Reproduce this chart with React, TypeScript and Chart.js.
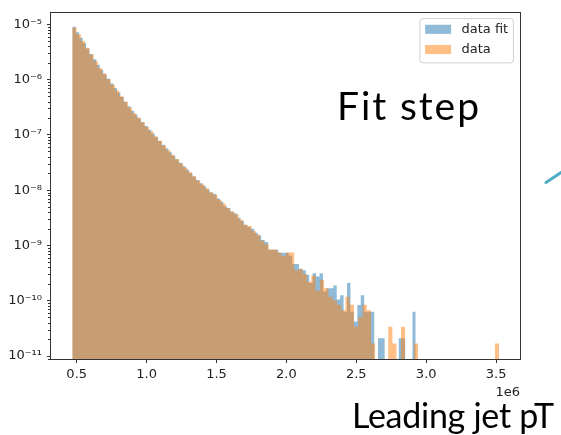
import React, { useEffect, useRef } from 'react';
import { Chart, registerables } from 'chart.js';

Chart.register(...registerables);

// ---- data ----
const binStart = 468500; // left edge of the first bin (both histograms)
const dataBinWidth = 30530; // "data" histogram bin width
const dataFitBinWidth = 24565; // "data fit" histogram bin width

// density values per bin (100 bins each)
const dataDensity = [
  8.71e-6, 6.59e-6, 4.98e-6, 3.76e-6, 2.84e-6, 2.15e-6, 1.62e-6, 1.28e-6, 1.01e-6, 8.02e-7,
  6.32e-7, 5.0e-7, 3.95e-7, 3.13e-7, 2.49e-7, 2.06e-7, 1.69e-7, 1.39e-7, 1.15e-7, 9.46e-8,
  7.78e-8, 6.41e-8, 5.28e-8, 4.36e-8, 3.63e-8, 3.04e-8, 2.54e-8, 2.13e-8, 1.78e-8, 1.49e-8,
  1.26e-8, 1.08e-8, 9.2e-9, 8.13e-9, 6.71e-9, 5.69e-9, 4.68e-9, 4.07e-9, 3.63e-9, 2.92e-9,
  2.4e-9, 2.24e-9, 1.82e-9, 1.58e-9, 1.22e-9, 1.05e-9, 8.45e-10, 8.45e-10, 7.44e-10, 6.42e-10,
  7.44e-10, 7.44e-10, 3.55e-10, 3.72e-10, 3.04e-10, 2.2e-10, 2.87e-10, 1.52e-10, 2.37e-10, 1.69e-10,
  1.18e-10, 1.01e-10, 8.45e-11, 6.76e-11, 1.18e-10, 8.45e-11, 3.38e-11, 5.07e-11, 8.45e-11, 6.76e-11,
  1.69e-11, 0, 0, 0, 3.38e-11, 1.69e-11, 0, 3.38e-11, 0, 0,
  1.69e-11, 0, 0, 0, 0, 0, 0, 0, 0, 0,
  0, 0, 0, 0, 0, 0, 0, 0, 0, 1.69e-11,
];

const dataFitDensity = [
  8.97e-6, 7.16e-6, 5.71e-6, 4.56e-6, 3.64e-6, 2.9e-6, 2.32e-6, 1.85e-6, 1.5e-6, 1.24e-6,
  1.03e-6, 8.49e-7, 7.03e-7, 5.82e-7, 4.81e-7, 3.98e-7, 3.3e-7, 2.73e-7, 2.32e-7, 1.98e-7,
  1.69e-7, 1.45e-7, 1.24e-7, 1.06e-7, 9.08e-8, 7.76e-8, 6.64e-8, 5.69e-8, 4.86e-8, 4.17e-8,
  3.61e-8, 3.13e-8, 2.71e-8, 2.34e-8, 2.03e-8, 1.76e-8, 1.52e-8, 1.33e-8, 1.17e-8, 1.03e-8,
  9.08e-9, 8.51e-9, 7.05e-9, 6.19e-9, 5.13e-9, 4.73e-9, 4.13e-9, 3.8e-9, 3.16e-9, 2.77e-9,
  2.34e-9, 2.15e-9, 2.0e-9, 1.69e-9, 1.51e-9, 1.26e-9, 1.15e-9, 8.4e-10, 8.4e-10, 8.4e-10,
  7.35e-10, 7.35e-10, 7.35e-10, 6.51e-10, 4.62e-10, 4.62e-10, 3.78e-10, 3.57e-10, 2.94e-10, 2.1e-10,
  3.15e-10, 2.73e-10, 3.15e-10, 1.47e-10, 1.68e-10, 1.68e-10, 1.89e-10, 1.05e-10, 1.26e-10, 6.3e-11,
  2.1e-10, 6.3e-11, 4.2e-11, 8.4e-11, 1.26e-10, 6.3e-11, 6.3e-11, 6.3e-11, 0, 2.1e-11,
  2.1e-11, 0, 0, 0, 0, 2.1e-11, 2.1e-11, 0, 0, 6.3e-11,
];

const legendLabels = ['data fit', 'data'];
const xTickValues = [500000, 1000000, 1500000, 2000000, 2500000, 3000000, 3500000];
const xTickLabels = ['0.5', '1.0', '1.5', '2.0', '2.5', '3.0', '3.5'];
const xOffsetLabel = '1e6';
const yTickValues = [1e-11, 1e-10, 1e-9, 1e-8, 1e-7, 1e-6, 1e-5];
const yTickLabels = ['10⁻¹¹', '10⁻¹⁰', '10⁻⁹', '10⁻⁸', '10⁻⁷', '10⁻⁶', '10⁻⁵'];
const yMinorMultipliers = [2, 3, 4, 5, 6, 7, 8, 9];
const slideTitle = 'Fit step';
const slideCaption = 'Leading jet pT';

const X_MIN = 316200;
const X_MAX = 3671000;
const Y_MIN = 8.84e-12;
const Y_MAX = 1.61e-5;

const FONT = "'DejaVu Sans', sans-serif";
const TEXT = '#222';
const SPINE = '#333';

function histogramOutline(values: number[], width: number) {
  const pts: { x: number; y: number | null }[] = [];
  values.forEach((v, i) => {
    const left = binStart + width * i;
    const y = v > 0 ? v : null;
    pts.push({ x: left, y }, { x: left + width, y });
  });
  return pts;
}

const framePlugin = {
  id: 'mplFrame',
  afterDatasetsDraw(chart: any) {
    const { ctx, chartArea } = chart;
    const l = Math.round(chartArea.left) - 0.5;
    const t = Math.round(chartArea.top) - 0.5;
    const r = Math.round(chartArea.right) + 0.5;
    const b = Math.round(chartArea.bottom) + 0.5;
    ctx.save();
    ctx.strokeStyle = SPINE;
    ctx.lineWidth = 1;
    ctx.strokeRect(l, t, r - l, b - t);
    // minor log ticks on the y axis
    const ys = chart.scales.y;
    const e0 = Math.floor(Math.log10(ys.min));
    const e1 = Math.ceil(Math.log10(ys.max));
    ctx.beginPath();
    for (let e = e0; e <= e1; e++) {
      for (const m of yMinorMultipliers) {
        const v = m * Math.pow(10, e);
        if (v < ys.min || v > ys.max) continue;
        const py = Math.round(ys.getPixelForValue(v)) + 0.5;
        ctx.moveTo(l - 2.5, py);
        ctx.lineTo(l, py);
      }
    }
    ctx.stroke();
    ctx.restore();
  },
};

const legendPlugin = {
  id: 'mplLegend',
  afterDraw(chart: any) {
    const { ctx, chartArea } = chart;
    const fs = 13;
    const pad = 0.4 * fs;
    const handleW = 2 * fs;
    const handleH = 0.7 * fs;
    const gap = 0.8 * fs;
    const rowPitch = 20.2;
    const items = chart.data.datasets.map((ds: any) => ({ label: ds.label, color: ds.backgroundColor }));
    ctx.save();
    ctx.font = `${fs}px ${FONT}`;
    const textW = Math.max(...items.map((it: any) => ctx.measureText(it.label).width));
    const w = pad * 2 + handleW + gap + textW;
    const h = 44.3;
    const left = chartArea.right - 6.6 - w;
    const top = chartArea.top + 5.8;
    ctx.beginPath();
    ctx.roundRect(left, top, w, h, 3);
    ctx.fillStyle = 'rgba(255,255,255,0.8)';
    ctx.fill();
    ctx.strokeStyle = '#d0d0d0';
    ctx.lineWidth = 1;
    ctx.stroke();
    items.forEach((it: any, i: number) => {
      const cy = top + 10.7 + i * rowPitch;
      ctx.fillStyle = it.color;
      ctx.fillRect(left + pad, cy - handleH / 2, handleW, handleH);
      ctx.fillStyle = TEXT;
      ctx.textBaseline = 'middle';
      ctx.textAlign = 'left';
      ctx.fillText(it.label, left + pad + handleW + gap, cy + 0.5);
    });
    ctx.restore();
  },
};

export default function App() {
  const canvasRef = useRef<HTMLCanvasElement | null>(null);

  useEffect(() => {
    document.body.style.margin = '0';
    const canvas = canvasRef.current;
    if (!canvas) return;
    Chart.defaults.font.family = FONT;
    const tickFont = { family: FONT, size: 13 };
    const chart = new Chart(canvas, {
      type: 'line',
      data: {
        datasets: [
          {
            label: legendLabels[0],
            data: histogramOutline(dataFitDensity, dataFitBinWidth),
            backgroundColor: 'rgba(31,119,180,0.5)',
            borderWidth: 0,
            pointRadius: 0,
            fill: 'start',
            spanGaps: false,
            tension: 0,
            order: 1,
          },
          {
            label: legendLabels[1],
            data: histogramOutline(dataDensity, dataBinWidth),
            backgroundColor: 'rgba(255,127,14,0.5)',
            borderWidth: 0,
            pointRadius: 0,
            fill: 'start',
            spanGaps: false,
            tension: 0,
            order: 0,
          },
        ],
      } as any,
      options: {
        responsive: false,
        animation: false,
        events: [],
        layout: { padding: { left: 0, top: 10, right: 41, bottom: 34.5 } },
        plugins: { legend: { display: false }, tooltip: { enabled: false } },
        scales: {
          x: {
            type: 'linear',
            position: 'bottom',
            min: X_MIN,
            max: X_MAX,
            afterBuildTicks: (s: any) => {
              s.ticks = xTickValues.map((v) => ({ value: v }));
            },
            afterFit: (s: any) => {
              s.height = 41.5;
            },
            ticks: {
              callback: (_v: any, i: number) => xTickLabels[i],
              color: TEXT,
              font: tickFont,
              padding: 4,
              autoSkip: false,
              maxRotation: 0,
            },
            grid: { display: true, drawOnChartArea: false, drawTicks: true, tickLength: 4, color: SPINE, lineWidth: 1 },
            border: { display: false },
            title: { display: true, text: xOffsetLabel, align: 'end', color: TEXT, font: tickFont, padding: 0 },
          },
          y: {
            type: 'logarithmic',
            position: 'left',
            min: Y_MIN,
            max: Y_MAX,
            afterBuildTicks: (s: any) => {
              s.ticks = yTickValues.map((v) => ({ value: v }));
            },
            afterFit: (s: any) => {
              s.width = 51;
            },
            ticks: {
              callback: (_v: any, i: number) => yTickLabels[i],
              color: TEXT,
              font: tickFont,
              padding: 5,
              autoSkip: false,
            },
            grid: { display: true, drawOnChartArea: false, drawTicks: true, tickLength: 4, color: SPINE, lineWidth: 1 },
            border: { display: false },
          },
        },
      } as any,
      plugins: [framePlugin, legendPlugin],
    });
    return () => chart.destroy();
  }, []);

  return (
    <div style={{ position: 'relative', width: 561, height: 435, background: '#fff' }}>
      <canvas ref={canvasRef} width={561} height={435} style={{ display: 'block' }} />
      <svg
        width={561}
        height={435}
        style={{ position: 'absolute', left: 0, top: 0, pointerEvents: 'none' }}
      >
        <text x={337} y={120} fontFamily="Lato" fontSize={39} fill="#000" textLength={142} lengthAdjust="spacing">
          {slideTitle}
        </text>
        <text x={352} y={428} fontFamily="Lato" fontSize={34} fill="#000" textLength={202} lengthAdjust="spacing">
          {slideCaption}
        </text>
        <line x1={546} y1={182.5} x2={580} y2={160} stroke="#4BACC6" strokeWidth={3} strokeLinecap="round" />
      </svg>
    </div>
  );
}
